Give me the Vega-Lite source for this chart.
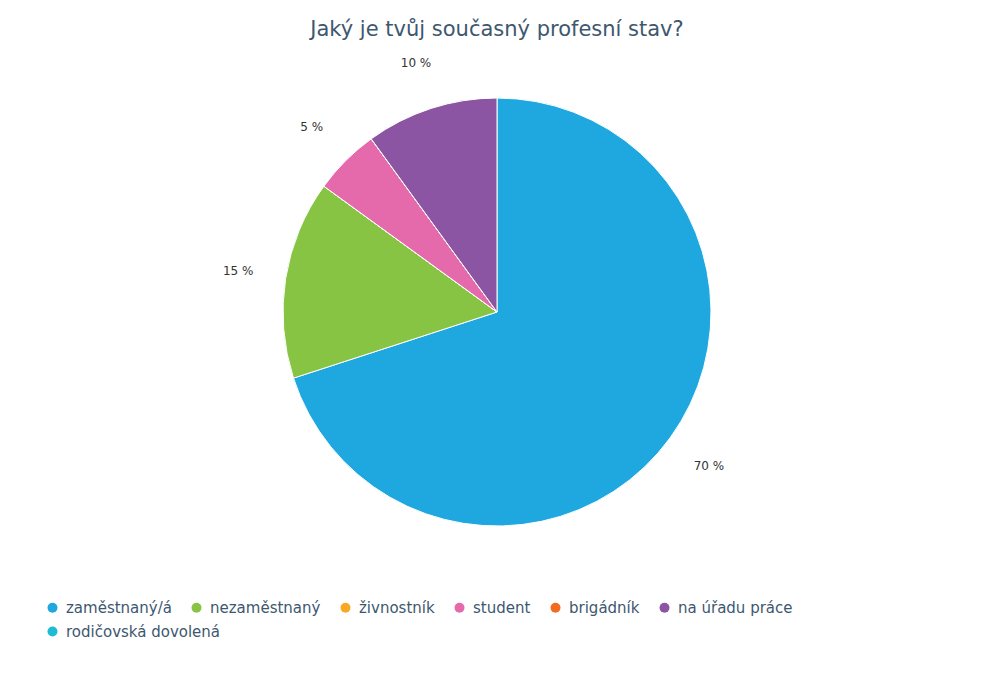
{
  "$schema": "https://vega.github.io/schema/vega-lite/v6.json",
  "width": 994,
  "height": 524,
  "autosize": "none",
  "padding": {"left": 0, "top": 50, "right": 0, "bottom": 99},
  "background": "white",
  "title": {
    "text": "Jaký je tvůj současný profesní stav?",
    "fontSize": 21,
    "font": "DejaVu Sans",
    "fontWeight": "normal",
    "color": "#3e576f",
    "anchor": "middle",
    "offset": 10
  },
  "config": {"view": {"stroke": null}},
  "data": {
    "values": [
      {"status": "zaměstnaný/á", "value": 70, "order": 1},
      {"status": "nezaměstnaný", "value": 15, "order": 2},
      {"status": "živnostník", "value": 0, "order": 3},
      {"status": "student", "value": 5, "order": 4},
      {"status": "brigádník", "value": 0, "order": 5},
      {"status": "na úřadu práce", "value": 10, "order": 6},
      {"status": "rodičovská dovolená", "value": 0, "order": 7}
    ]
  },
  "encoding": {
    "theta": {"field": "value", "type": "quantitative", "stack": true},
    "order": {"field": "order", "type": "quantitative"}
  },
  "layer": [
    {
      "transform": [{"filter": "datum.status != 'rodičovská dovolená'"}],
      "mark": {"type": "arc", "outerRadius": 214, "stroke": "white", "strokeWidth": 1},
      "encoding": {
        "color": {
          "field": "status",
          "type": "nominal",
          "scale": {
            "domain": ["zaměstnaný/á", "nezaměstnaný", "živnostník", "student", "brigádník", "na úřadu práce"],
            "range": ["#1fa8e0", "#88c443", "#f9a825", "#e56aab", "#f26b21", "#8c55a3"]
          },
          "legend": {
            "title": null,
            "orient": "none",
            "legendX": 45,
            "legendY": 550,
            "direction": "horizontal",
            "symbolType": "circle",
            "symbolSize": 100,
            "symbolStrokeWidth": 0,
            "symbolOpacity": 1,
            "labelFont": "DejaVu Sans",
            "labelFontSize": 15,
            "labelColor": "#3e576f",
            "labelOffset": 6,
            "columnPadding": 17,
            "labelLimit": 300
          }
        }
      }
    },
    {
      "transform": [{"filter": "datum.status == 'rodičovská dovolená'"}],
      "mark": {"type": "arc", "outerRadius": 214, "strokeWidth": 0},
      "encoding": {
        "fill": {
          "field": "status",
          "type": "nominal",
          "scale": {"domain": ["rodičovská dovolená"], "range": ["#1ebcd3"]},
          "legend": {
            "title": null,
            "orient": "none",
            "legendX": 45,
            "legendY": 574,
            "direction": "horizontal",
            "symbolType": "circle",
            "symbolSize": 100,
            "symbolStrokeWidth": 0,
            "symbolOpacity": 1,
            "labelFont": "DejaVu Sans",
            "labelFontSize": 15,
            "labelColor": "#3e576f",
            "labelOffset": 6,
            "labelLimit": 300
          }
        }
      }
    },
    {
      "transform": [
        {"filter": "datum.value > 0"},
        {"calculate": "datum.value + ' %'", "as": "label"}
      ],
      "mark": {"type": "text", "radius": 262, "fontSize": 12, "font": "DejaVu Sans", "color": "#333333"},
      "encoding": {"text": {"field": "label", "type": "nominal"}}
    }
  ]
}
